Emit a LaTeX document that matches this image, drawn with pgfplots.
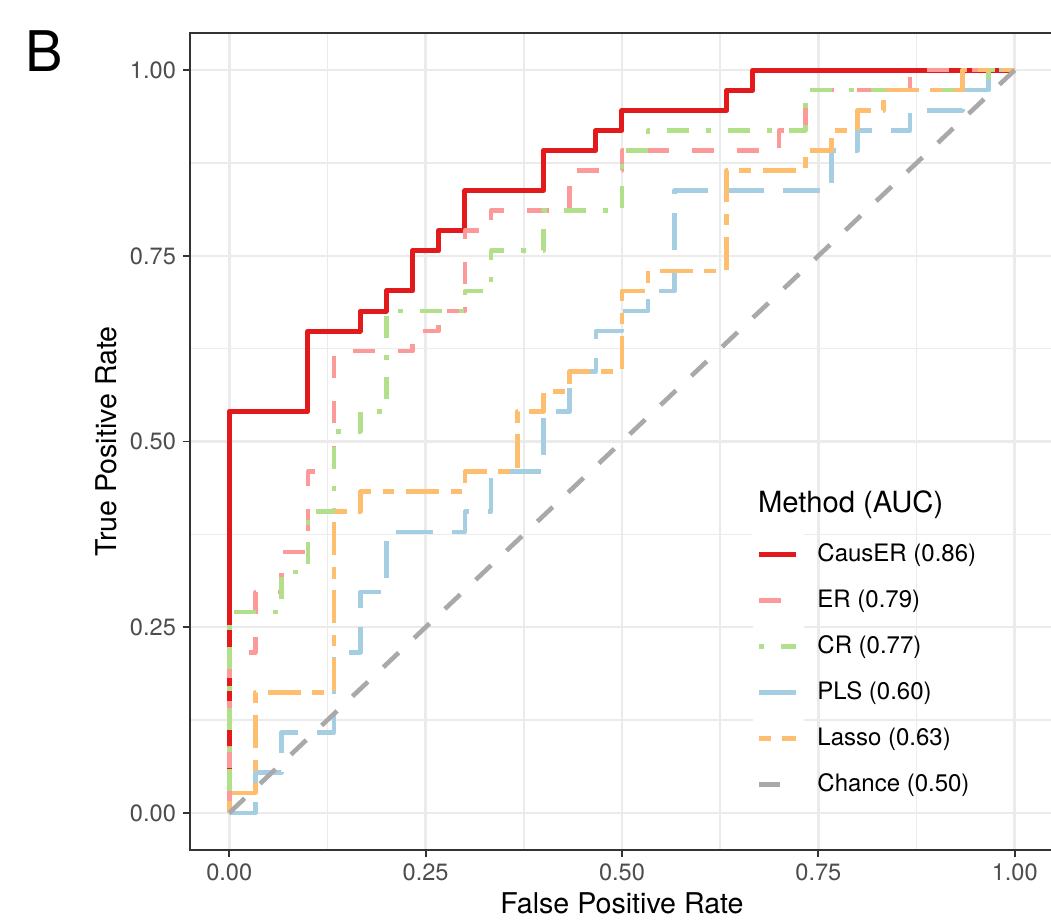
\documentclass[border=0pt]{standalone}
\usepackage{fontspec}
\setmainfont{TeX Gyre Heros}
\usepackage{pgfplots}
\usepackage{pgfplotstable}
\pgfplotsset{compat=1.18}

\definecolor{cCausER}{HTML}{E31A1C}
\definecolor{cER}{HTML}{FB9A99}
\definecolor{cCR}{HTML}{B2DF8A}
\definecolor{cPLS}{HTML}{A6CEE3}
\definecolor{cLasso}{HTML}{FDBF6F}
\definecolor{cChance}{HTML}{A9A9A9}
\definecolor{grey92}{HTML}{EBEBEB}
\definecolor{grey20}{HTML}{333333}
\definecolor{grey30}{HTML}{4D4D4D}

% ROC curves: false positive rate, true positive rate
\pgfplotstableread{
fpr tpr
0 0
0 0.5405
0.1 0.5405
0.1 0.6486
0.1667 0.6486
0.1667 0.6757
0.2 0.6757
0.2 0.7027
0.2333 0.7027
0.2333 0.7568
0.2667 0.7568
0.2667 0.7838
0.3 0.7838
0.3 0.8378
0.4 0.8378
0.4 0.8919
0.4667 0.8919
0.4667 0.9189
0.5 0.9189
0.5 0.9459
0.6333 0.9459
0.6333 0.9730
0.6667 0.9730
0.6667 1
1 1
}\rocCausER

\pgfplotstableread{
fpr tpr
0 0
0 0.2162
0.0333 0.2162
0.0333 0.2973
0.0667 0.2973
0.0667 0.3514
0.1 0.3514
0.1 0.4595
0.1333 0.4595
0.1333 0.6216
0.2333 0.6216
0.2333 0.6486
0.2667 0.6486
0.2667 0.6757
0.3 0.6757
0.3 0.7838
0.3333 0.7838
0.3333 0.8108
0.4333 0.8108
0.4333 0.8649
0.5 0.8649
0.5 0.8919
0.7 0.8919
0.7 0.9189
0.7333 0.9189
0.7333 0.9730
0.8667 0.9730
0.8667 1
1 1
}\rocER

\pgfplotstableread{
fpr tpr
0 0
0 0.2703
0.0667 0.2703
0.0667 0.3243
0.1 0.3243
0.1 0.4054
0.1333 0.4054
0.1333 0.5135
0.1667 0.5135
0.1667 0.5405
0.2 0.5405
0.2 0.6757
0.3 0.6757
0.3 0.7027
0.3333 0.7027
0.3333 0.7568
0.4 0.7568
0.4 0.8108
0.5 0.8108
0.5 0.8919
0.5333 0.8919
0.5333 0.9189
0.7333 0.9189
0.7333 0.9730
0.9667 0.9730
0.9667 1
1 1
}\rocCR

\pgfplotstableread{
fpr tpr
0 0
0.0333 0
0.0333 0.0541
0.0667 0.0541
0.0667 0.1081
0.1333 0.1081
0.1333 0.2162
0.1667 0.2162
0.1667 0.2973
0.2 0.2973
0.2 0.3784
0.3 0.3784
0.3 0.4054
0.3333 0.4054
0.3333 0.4595
0.4 0.4595
0.4 0.5405
0.4333 0.5405
0.4333 0.5946
0.4667 0.5946
0.4667 0.6486
0.5 0.6486
0.5 0.6757
0.5333 0.6757
0.5333 0.7027
0.5667 0.7027
0.5667 0.8378
0.7667 0.8378
0.7667 0.8919
0.8 0.8919
0.8 0.9189
0.8667 0.9189
0.8667 0.9459
0.9333 0.9459
0.9333 0.9730
0.9667 0.9730
0.9667 1
1 1
}\rocPLS

\pgfplotstableread{
fpr tpr
0 0
0 0.0270
0.0333 0.0270
0.0333 0.1622
0.1333 0.1622
0.1333 0.4054
0.1667 0.4054
0.1667 0.4324
0.3 0.4324
0.3 0.4595
0.3667 0.4595
0.3667 0.5405
0.4 0.5405
0.4 0.5676
0.4333 0.5676
0.4333 0.5946
0.5 0.5946
0.5 0.7027
0.5333 0.7027
0.5333 0.7297
0.6333 0.7297
0.6333 0.8649
0.7333 0.8649
0.7333 0.8919
0.7667 0.8919
0.7667 0.9189
0.8 0.9189
0.8 0.9459
0.8333 0.9459
0.8333 0.9730
0.9333 0.9730
0.9333 1
1 1
}\rocLasso

\begin{document}
\begin{tikzpicture}
\begin{axis}[
  width=432pt, height=408.5pt, scale only axis,
  xmin=-0.05, xmax=1.05, ymin=-0.05, ymax=1.05,
  xtick={0,0.25,0.5,0.75,1}, ytick={0,0.25,0.5,0.75,1},
  xticklabels={0.00,0.25,0.50,0.75,1.00},
  yticklabels={0.00,0.25,0.50,0.75,1.00},
  minor tick num=1,
  grid=both,
  major grid style={color=grey92, line width=1.3pt},
  minor grid style={color=grey92, line width=0.8pt},
  tick align=outside, tick pos=left,
  major tick length=3.5pt, minor tick length=0pt,
  tick style={color=grey20, line width=0.9pt},
  axis line style={color=grey20, line width=0.9pt},
  ticklabel style={font=\fontsize{11.8}{14}\selectfont, text=grey30},
  xlabel={False Positive Rate}, ylabel={True Positive Rate},
  label style={font=\fontsize{14.3}{17}\selectfont},
  xlabel style={at={(axis description cs:0.5,-0.0783)}, anchor=base},
  ylabel style={at={(axis description cs:-0.0845,0.5)}, anchor=base},
  legend style={at={(0.6505,0.3941)}, anchor=north west, draw=none, fill=none,
    inner sep=0pt, row sep=-2.5pt, font=\fontsize{12}{14}\selectfont,
    /tikz/every odd column/.style={column sep=4.5pt}},
  legend cell align=left,
  legend image code/.code={
    \fill[white] (0pt,-11.6pt) rectangle (23.5pt,11.6pt);
    \draw[#1,line cap=butt] (2pt,0pt) -- (20.5pt,0pt);
  },
  clip=false,
  every axis plot/.append style={line join=round, line cap=butt},
]
\addplot[cCausER, line width=2.5pt] table[x=fpr, y=tpr] {\rocCausER};
\addlegendentry{CausER (0.86)}
\addplot[cER, line width=2.3pt, dash pattern=on 11pt off 11.5pt] table[x=fpr, y=tpr] {\rocER};
\addlegendentry{ER (0.79)}
\addplot[cCR, line width=2.3pt, dash pattern=on 2.5pt off 8.5pt on 11pt off 8.5pt] table[x=fpr, y=tpr] {\rocCR};
\addlegendentry{CR (0.77)}
\addplot[cPLS, line width=2.3pt, dash pattern=on 18.5pt off 9.5pt] table[x=fpr, y=tpr] {\rocPLS};
\addlegendentry{PLS (0.60)}
\addplot[cLasso, line width=2.3pt, dash pattern=on 5.8pt off 5.8pt on 16.5pt off 5.8pt] table[x=fpr, y=tpr] {\rocLasso};
\addlegendentry{Lasso (0.63)}
\addplot[cChance, line width=2.3pt, dash pattern=on 10.6pt off 10.6pt] coordinates {(0,0) (1,1)};
\addlegendentry{Chance (0.50)}

\node[anchor=base west, font=\fontsize{14.6}{17}\selectfont] at (rel axis cs:0.6493,0.4137) {Method (AUC)};
\node[anchor=base west, font=\fontsize{28}{30}\selectfont] at (rel axis cs:-0.1991,0.9523) {B};
\coordinate (bbSW) at (rel axis cs:-0.2199,-0.0894);
\coordinate (bbNE) at (rel axis cs:0.99653,1.0404);
\end{axis}
\pgfresetboundingbox
\useasboundingbox (bbSW) rectangle (bbNE);
\end{tikzpicture}
\end{document}
